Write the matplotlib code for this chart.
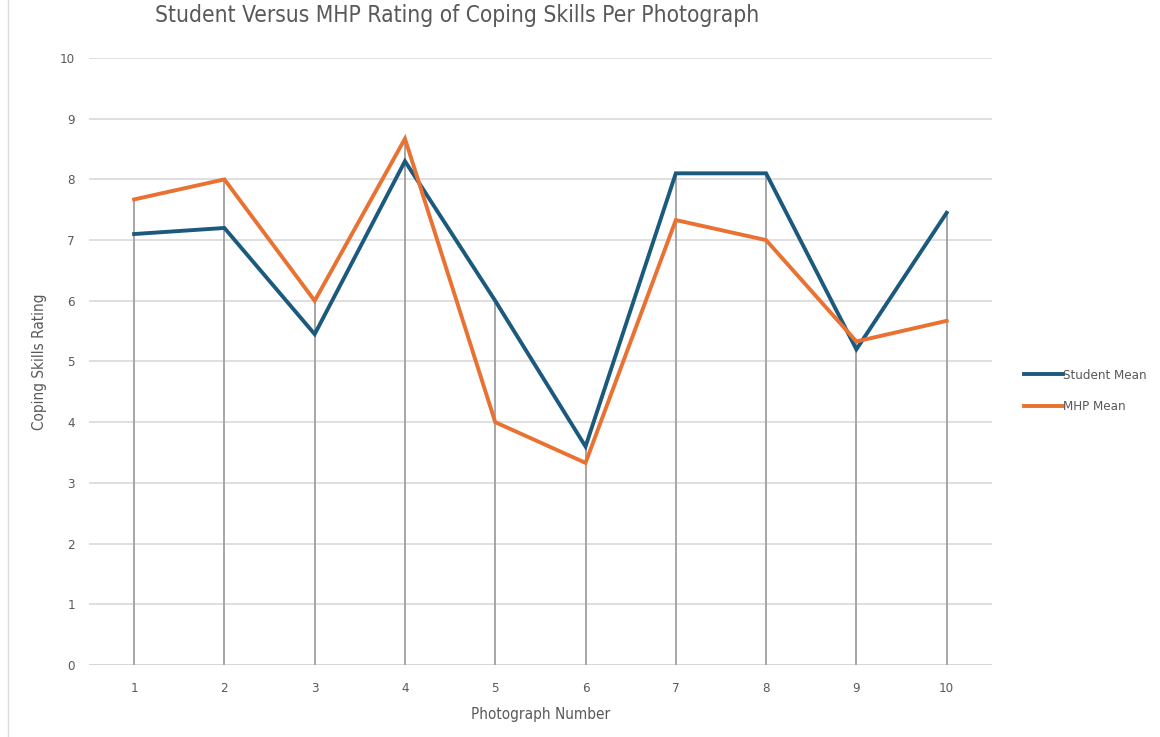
import numpy as np
import matplotlib.pyplot as plt
from matplotlib.lines import Line2D

# ── Data ────────────────────────────────────────────────────
photos = [1, 2, 3, 4, 5, 6, 7, 8, 9, 10]
student_mean = [7.1, 7.2, 5.45, 8.3, 6.0, 3.6, 8.1, 8.1, 5.2, 7.45]
mhp_mean = [7.67, 8.0, 6.0, 8.67, 4.0, 3.33, 7.33, 7.0, 5.33, 5.67]
y_ticks = [0, 1, 2, 3, 4, 5, 6, 7, 8, 9, 10]

TXT = "#595959"
BLUE = "#1B5A7D"
ORANGE = "#E97132"

plt.rcParams["font.family"] = ["DejaVu Sans"]
plt.rcParams["font.stretch"] = "condensed"

fig = plt.figure(figsize=(11.6, 7.37), dpi=100)
ax = fig.add_axes([0.0767, 0.0977, 0.7783, 0.8236])

# gridlines
for t in y_ticks:
    ax.axhline(t, color="#d9d9d9" if t else "#cfcfcf", linewidth=1.2, zorder=0)

# drop lines from each point down to axis
tops = np.maximum(student_mean, mhp_mean)
ax.vlines(photos, 0, tops, color="#a6a6a6", linewidth=1.4, zorder=1)

ax.plot(photos, student_mean, color=BLUE, linewidth=2.8, label="Student Mean",
        solid_joinstyle="miter", zorder=3)
ax.plot(photos, mhp_mean, color=ORANGE, linewidth=2.8, label="MHP Mean",
        solid_joinstyle="miter", zorder=3)

ax.set_xlim(0.5, 10.5)
ax.set_ylim(0, 10)
ax.set_xticks(photos)
ax.set_yticks(y_ticks)
ax.tick_params(axis="both", length=0, colors=TXT, labelsize=9.5)
ax.tick_params(axis="x", pad=12)
ax.tick_params(axis="y", pad=10)
for s in ax.spines.values():
    s.set_visible(False)

ax.set_xlabel("Photograph Number", fontsize=11, color=TXT, labelpad=9)
ax.set_ylabel("Coping Skills Rating", fontsize=11, color=TXT, labelpad=9)

fig.text(0.394, 0.979, "Student Versus MHP Rating of Coping Skills Per Photograph",
         ha="center", va="center", fontsize=16.3, color=TXT)

leg = ax.legend(loc="center left", bbox_to_anchor=(1.022, 0.451), frameon=False,
                fontsize=9.5, handlelength=3.0, handletextpad=0.0,
                labelspacing=1.4, labelcolor=TXT)

# left border of the chart area
fig.add_artist(Line2D([0.007, 0.007], [0, 1], transform=fig.transFigure,
                      color="#dcdcdc", linewidth=1))

plt.savefig("out.png", dpi=100)
